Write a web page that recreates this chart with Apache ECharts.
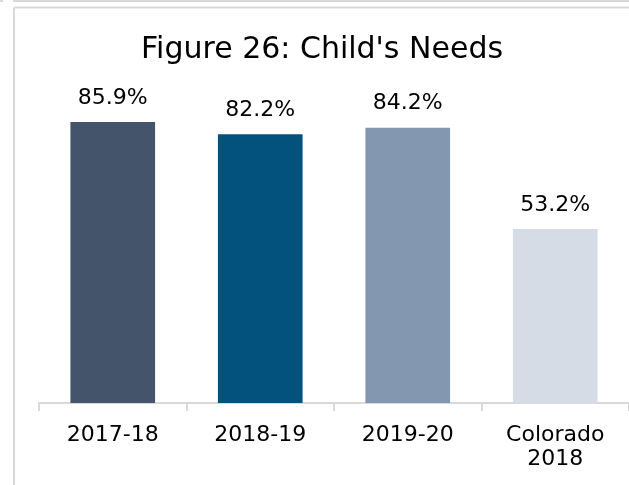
<!DOCTYPE html>
<html>
<head>
<meta charset="utf-8">
<script src="https://cdn.jsdelivr.net/npm/echarts@6/dist/echarts.min.js"></script>
<style>
  html, body { margin: 0; padding: 0; background: #ffffff; }
  #chart { width: 629px; height: 485px; }
</style>
</head>
<body>
<div id="chart"></div>
<script>
// Child's needs: share by year, with the statewide figure for comparison
const categories = ['2017-18', '2018-19', '2019-20', 'Colorado\n2018'];
const values = [85.9, 82.2, 84.2, 53.2];
const barColors = ['#44546a', '#03527e', '#8497b0', '#d6dce5'];

const FONT = 'DejaVu Sans';
const chart = echarts.init(document.getElementById('chart'), null, { renderer: 'canvas' });

chart.setOption({
  backgroundColor: '#ffffff',
  animation: false,
  title: {
    text: "Figure 26: Child's Needs",
    left: 136,
    top: 30,
    textStyle: { fontFamily: FONT, fontSize: 30, fontWeight: 'normal', color: '#000000' }
  },
  graphic: [
    { type: 'line', shape: { x1: 13, y1: 1, x2: 629, y2: 1 }, style: { stroke: '#d9d9d9', lineWidth: 2 } },
    { type: 'line', shape: { x1: 0, y1: 1, x2: 3, y2: 1 }, style: { stroke: '#d9d9d9', lineWidth: 2 } },
    { type: 'line', shape: { x1: 14, y1: 7.5, x2: 629, y2: 7.5 }, style: { stroke: '#d9d9d9', lineWidth: 2 } },
    { type: 'line', shape: { x1: 14, y1: 7.5, x2: 14, y2: 485 }, style: { stroke: '#d9d9d9', lineWidth: 2 } }
  ],
  grid: { left: 39, top: 76, width: 593, height: 327, containLabel: false },
  xAxis: {
    type: 'category',
    data: categories,
    axisLine: { lineStyle: { color: '#d9d9d9', width: 2 } },
    axisTick: { show: true, length: 8, lineStyle: { color: '#d9d9d9', width: 2 } },
    axisLabel: { fontFamily: FONT, fontSize: 22, color: '#000000', margin: 20, lineHeight: 24 }
  },
  yAxis: {
    type: 'value',
    min: 0,
    max: 100,
    show: false,
    splitLine: { show: false }
  },
  series: [{
    type: 'bar',
    data: values.map((v, i) => ({ value: v, itemStyle: { color: barColors[i] } })),
    barWidth: '57.4%',
    label: {
      show: true,
      position: 'top',
      distance: 13,
      formatter: p => p.value.toFixed(1) + '%',
      fontFamily: FONT,
      fontSize: 22,
      color: '#000000'
    }
  }]
});
</script>
</body>
</html>
